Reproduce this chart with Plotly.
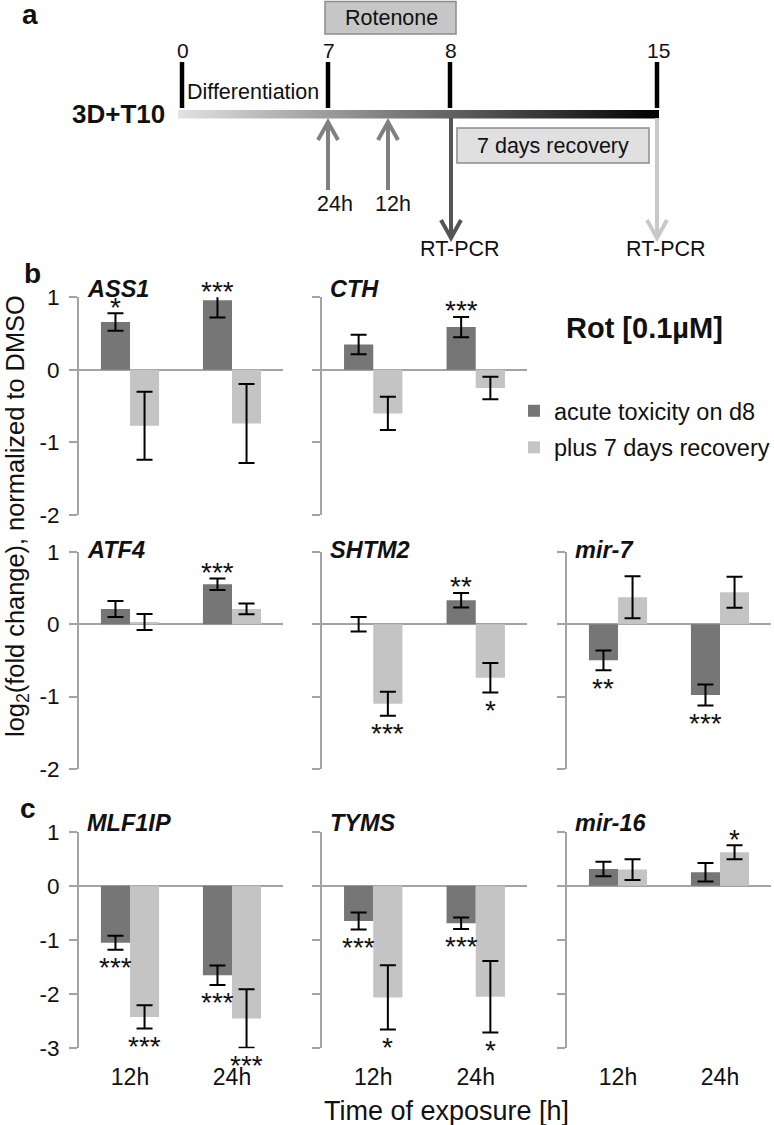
import plotly.graph_objects as go

# ---------------- data ----------------
times = ["12h", "24h"]
genes = ["ASS1", "CTH", "ATF4", "SHTM2", "mir-7", "MLF1IP", "TYMS", "mir-16"]
series_names = ["acute toxicity on d8", "plus 7 days recovery"]

acute_12h = [0.66, 0.35, 0.21, 0.00, -0.50, -1.05, -0.65, 0.31]
acute_24h = [0.96, 0.59, 0.55, 0.33, -0.98, -1.65, -0.69, 0.25]
recovery_12h = [-0.77, -0.60, 0.03, -1.10, 0.37, -2.42, -2.06, 0.30]
recovery_24h = [-0.74, -0.25, 0.21, -0.74, 0.44, -2.45, -2.05, 0.62]

acute_12h_err = [0.12, 0.135, 0.11, 0.10, 0.135, 0.13, 0.157, 0.135]
acute_24h_err = [0.24, 0.14, 0.08, 0.10, 0.145, 0.18, 0.105, 0.17]
recovery_12h_err = [0.47, 0.23, 0.11, 0.165, 0.29, 0.215, 0.595, 0.19]
recovery_24h_err = [0.545, 0.155, 0.075, 0.205, 0.215, 0.54, 0.66, 0.13]

acute_12h_sig = ["*", "", "", "", "**", "***", "***", ""]
acute_24h_sig = ["***", "***", "***", "**", "***", "***", "***", ""]
recovery_12h_sig = ["", "", "", "***", "", "***", "*", ""]
recovery_24h_sig = ["", "", "", "*", "", "***", "*", "*"]

timeline_labels = ["0", "7", "8", "15"]
arrow_labels_up = ["24h", "12h"]

# ---------------- style ----------------
W, H = 774, 1125
DARK = "#767676"
LIGHT = "#c4c4c4"
AXIS = "#a3a3a3"
TXT = "#111111"
FONT = "Liberation Sans, Arial, sans-serif"
BARGAP = 0.43


def fx(px):
    return px / W


def fy(py):
    return 1 - py / H


col_px = [(79, 283), (322, 527), (567, 771)]
row_px = [(297.3, 515), (551.7, 769), (831.7, 1048.3)]
row_range = [[-2, 1], [-2, 1], [-3, 1]]
row_title_y = [289, 550, 823]
panel_pos = [(0, 0), (0, 1), (1, 0), (1, 1), (1, 2), (2, 0), (2, 1), (2, 2)]

fig = go.Figure()
layout = dict(
    width=W, height=H, margin=dict(l=0, r=0, t=0, b=0, pad=0, autoexpand=False),
    paper_bgcolor="white", plot_bgcolor="rgba(0,0,0,0)",
    font=dict(family=FONT, color=TXT),
    barmode="group", bargap=BARGAP, bargroupgap=0,
    showlegend=True,
    legend=dict(x=fx(514), y=fy(389), xanchor="left", yanchor="top",
                font=dict(size=23.5, color=TXT), tracegroupgap=3,
                bgcolor="rgba(0,0,0,0)", traceorder="grouped"),
)

annotations = []
shapes = []
half = (1 - BARGAP) / 4

for i, (r, c) in enumerate(panel_pos):
    n = "" if i == 0 else str(i + 1)
    xa, ya = "x" + n, "y" + n
    rng = row_range[r]
    tv = list(range(rng[1], rng[0] - 1, -1))
    layout["xaxis" + n] = dict(
        domain=[fx(col_px[c][0]), fx(col_px[c][1])], anchor=ya, type="category",
        range=[-0.5, 1.5], showline=False, zeroline=False, showgrid=False,
        ticks="", showticklabels=(r == 2), tickfont=dict(size=23, color=TXT),
        ticklabelstandoff=13, fixedrange=True)
    layout["yaxis" + n] = dict(
        domain=[fy(row_px[r][1]), fy(row_px[r][0])], anchor=xa, range=rng,
        showline=True, linecolor=AXIS, linewidth=2, ticks="outside", ticklen=8,
        tickwidth=2, tickcolor=AXIS, tickvals=tv, ticktext=[str(v) for v in tv],
        showgrid=False, zeroline=True, zerolinecolor=AXIS, zerolinewidth=2,
        showticklabels=(c == 0), tickfont=dict(size=22.5, color=TXT),
        ticklabelstandoff=5, fixedrange=True)

    for s, (v12, v24, e12, e24, s12, s24, col, off) in enumerate([
        (acute_12h, acute_24h, acute_12h_err, acute_24h_err, acute_12h_sig, acute_24h_sig, DARK, -half),
        (recovery_12h, recovery_24h, recovery_12h_err, recovery_24h_err, recovery_12h_sig, recovery_24h_sig, LIGHT, half),
    ]):
        vals = [v12[i], v24[i]]
        errs = [e12[i], e24[i]]
        sigs = [s12[i], s24[i]]
        fig.add_trace(go.Bar(
            x=times, y=vals, name=series_names[s], legendgroup=series_names[s],
            showlegend=(i == 0), marker=dict(color=col, line=dict(width=0)),
            error_y=dict(type="data", array=errs, visible=True, color="black",
                         thickness=2, width=8),
            xaxis=xa, yaxis=ya, hoverinfo="skip"))
        for t in range(2):
            if not sigs[t]:
                continue
            v, e = vals[t], errs[t]
            if v >= 0:
                yv, ys = min(v + e, rng[1]), 6
            else:
                yv, ys = max(v - e, rng[0]), -18
            annotations.append(dict(
                x=t + off, y=yv, xref=xa, yref=ya, text=sigs[t], showarrow=False,
                xanchor="center", yanchor="middle", yshift=ys,
                font=dict(size=28, color=TXT)))

    annotations.append(dict(
        x=col_px[c][0] + 6, y=row_title_y[r], xref="x9", yref="y9",
        text="<b><i>%s</i></b>" % genes[i], showarrow=False, xanchor="left",
        yanchor="middle", font=dict(size=23.5, color=TXT)))

# overlay pixel-space axis for the timeline and free text
layout["xaxis9"] = dict(domain=[0, 1], range=[0, W], visible=False, anchor="y9", fixedrange=True)
layout["yaxis9"] = dict(domain=[0, 1], range=[H, 0], visible=False, anchor="x9", fixedrange=True)

fig.add_trace(go.Scatter(
    x=[178, 659, 659, 178, 178], y=[110, 110, 118.5, 118.5, 110], mode="lines",
    line=dict(width=0), fill="toself",
    fillgradient=dict(type="horizontal", colorscale=[[0, "#e2e2e2"], [1, "#000000"]]),
    xaxis="x9", yaxis="y9", showlegend=False, hoverinfo="skip"))

def rect(x0, x1, y0, y1, fill):
    shapes.append(dict(type="rect", xref="x9", yref="y9", x0=x0, x1=x1, y0=y0, y1=y1,
                       fillcolor=fill, line=dict(color="#8c8c8c", width=1.5), layer="below"))

rect(325, 456, 1.5, 34, "#c6c6c6")
rect(457, 649, 128, 163, "#e0e0e0")

tick_x = [182, 328, 450, 657]
for tx, lab in zip(tick_x, timeline_labels):
    shapes.append(dict(type="line", xref="x9", yref="y9", x0=tx, x1=tx, y0=62, y1=108,
                       line=dict(color="black", width=4.5)))
    annotations.append(dict(x=tx + 1, y=50, xref="x9", yref="y9", text=lab, showarrow=False,
                            font=dict(size=21, color=TXT)))


def arrow(x, y_tail, y_tip, color):
    shapes.append(dict(type="line", xref="x9", yref="y9", x0=x, x1=x, y0=y_tail, y1=y_tip,
                       line=dict(color=color, width=4)))
    d = 19 if y_tip < y_tail else -19
    shapes.append(dict(type="path", xref="x9", yref="y9",
                       path="M %f,%f L %f,%f L %f,%f" % (x - 10, y_tip + d, x, y_tip + 1 * (1 if d > 0 else -1), x + 10, y_tip + d),
                       line=dict(color=color, width=4)))

arrow(328, 190, 121, "#808080")
arrow(388, 190, 121, "#808080")
arrow(451, 118, 239, "#555555")
arrow(657, 118, 239, "#c8c8c8")

for x, lab in zip([335, 393], arrow_labels_up):
    annotations.append(dict(x=x, y=204, xref="x9", yref="y9", text=lab, showarrow=False,
                            font=dict(size=21.5, color=TXT)))
for x in [460, 666]:
    annotations.append(dict(x=x, y=249, xref="x9", yref="y9", text="RT-PCR", showarrow=False,
                            font=dict(size=21.5, color=TXT)))

free_text = [
    (30, 14, "<b>a</b>", 28, "center", 0),
    (32, 273, "<b>b</b>", 28, "center", 0),
    (28, 808, "<b>c</b>", 28, "center", 0),
    (391, 18, "Rotenone", 21.5, "center", 0),
    (185, 92, "Differentiation", 21.5, "left", 0),
    (167, 114, "<b>3D+T10</b>", 26, "right", 0),
    (553, 146, "7 days recovery", 21.5, "center", 0),
    (644, 328, "<b>Rot [0.1µM]</b>", 29, "center", 0),
    (446, 1111, "Time of exposure [h]", 27, "center", 0),
    (17, 516, "log<sub>2</sub>(fold change), normalized to DMSO", 25.4, "center", -90),
]
for x, y, t, sz, xa_, ang in free_text:
    annotations.append(dict(x=x, y=y, xref="x9", yref="y9", text=t, showarrow=False,
                            xanchor=xa_, yanchor="middle", textangle=ang,
                            font=dict(size=sz, color=TXT)))

layout["annotations"] = annotations
layout["shapes"] = shapes
fig.update_layout(**layout)
fig.write_html("out.html", config={"displayModeBar": False},
               post_script="document.body.style.margin='0px';")
